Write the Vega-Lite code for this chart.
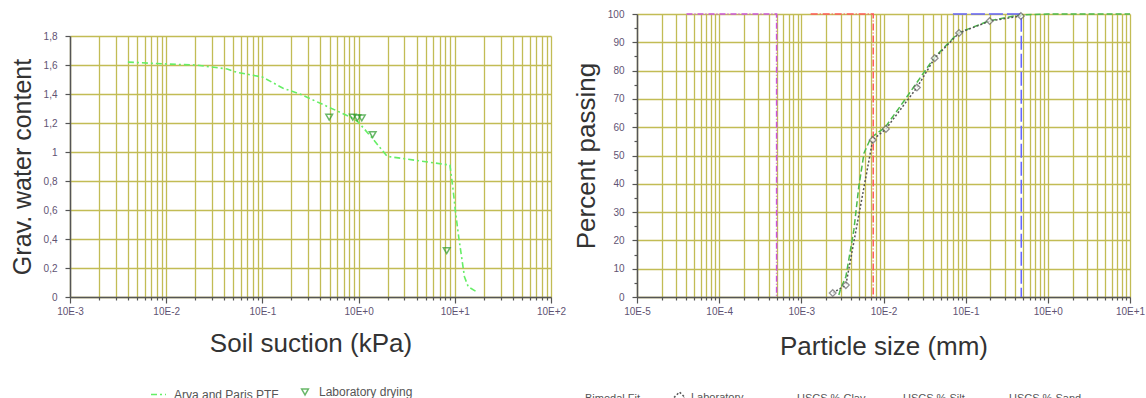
{
  "$schema": "https://vega.github.io/schema/vega-lite/v6.json",
  "padding": {"left": 10, "top": 9, "right": 0, "bottom": 0},
  "background": "white",
  "config": {
    "view": {"stroke": null},
    "font": "Liberation Sans",
    "axis": {
      "domainColor": "#555555", "domainWidth": 1.5,
      "tickColor": "#555555", "tickWidth": 1.2,
      "gridColor": "#c2bc55", "gridWidth": 1.3, "gridOpacity": 1,
      "labelFont": "Liberation Sans", "labelFontSize": 10, "labelColor": "#5f5373",
      "titleFont": "Liberation Sans", "titleFontSize": 26, "titleFontWeight": "normal", "titleColor": "#333333",
      "labelOverlap": false, "labelBound": false, "labelFlush": false
    },
    "legend": {"labelFont": "Liberation Sans", "labelFontSize": 11, "labelColor": "#555555", "padding": 0}
  },
  "datasets": {
    "swcc": [
      {"series": "Arya and Paris PTF", "suction": 0.04, "w": 1.62},
      {"series": "Arya and Paris PTF", "suction": 0.1, "w": 1.607},
      {"series": "Arya and Paris PTF", "suction": 0.2, "w": 1.6},
      {"series": "Arya and Paris PTF", "suction": 0.43, "w": 1.573},
      {"series": "Arya and Paris PTF", "suction": 0.54, "w": 1.55},
      {"series": "Arya and Paris PTF", "suction": 1.0, "w": 1.517},
      {"series": "Arya and Paris PTF", "suction": 1.64, "w": 1.44},
      {"series": "Arya and Paris PTF", "suction": 2.45, "w": 1.4},
      {"series": "Arya and Paris PTF", "suction": 8.3, "w": 1.24},
      {"series": "Arya and Paris PTF", "suction": 9.8, "w": 1.21},
      {"series": "Arya and Paris PTF", "suction": 13.7, "w": 1.1},
      {"series": "Arya and Paris PTF", "suction": 19.8, "w": 0.97},
      {"series": "Arya and Paris PTF", "suction": 89, "w": 0.91},
      {"series": "Arya and Paris PTF", "suction": 96, "w": 0.74},
      {"series": "Arya and Paris PTF", "suction": 102, "w": 0.58},
      {"series": "Arya and Paris PTF", "suction": 110, "w": 0.41},
      {"series": "Arya and Paris PTF", "suction": 126, "w": 0.14},
      {"series": "Arya and Paris PTF", "suction": 138, "w": 0.07},
      {"series": "Arya and Paris PTF", "suction": 170, "w": 0.035},
      {"series": "Laboratory drying", "suction": 4.95, "w": 1.24},
      {"series": "Laboratory drying", "suction": 8.7, "w": 1.24},
      {"series": "Laboratory drying", "suction": 9.7, "w": 1.235},
      {"series": "Laboratory drying", "suction": 10.8, "w": 1.235},
      {"series": "Laboratory drying", "suction": 14, "w": 1.12},
      {"series": "Laboratory drying", "suction": 82.4, "w": 0.32}
    ],
    "psd": [
      {"i": 1, "series": "Bimodal Fit", "size": 0.0286, "pct": 0.7},
      {"i": 2, "series": "Bimodal Fit", "size": 0.0303, "pct": 3.2},
      {"i": 3, "series": "Bimodal Fit", "size": 0.0348, "pct": 7.1},
      {"i": 4, "series": "Bimodal Fit", "size": 0.0436, "pct": 23.7},
      {"i": 5, "series": "Bimodal Fit", "size": 0.05, "pct": 38.9},
      {"i": 6, "series": "Bimodal Fit", "size": 0.058, "pct": 50.9},
      {"i": 7, "series": "Bimodal Fit", "size": 0.07, "pct": 56.2},
      {"i": 8, "series": "Bimodal Fit", "size": 0.105, "pct": 60},
      {"i": 9, "series": "Bimodal Fit", "size": 0.175, "pct": 69},
      {"i": 10, "series": "Bimodal Fit", "size": 0.41, "pct": 84.4},
      {"i": 11, "series": "Bimodal Fit", "size": 0.81, "pct": 93.3},
      {"i": 12, "series": "Bimodal Fit", "size": 1.9, "pct": 97.5},
      {"i": 13, "series": "Bimodal Fit", "size": 4.3, "pct": 99.6},
      {"i": 14, "series": "Bimodal Fit", "size": 10, "pct": 100},
      {"i": 15, "series": "Bimodal Fit", "size": 100, "pct": 100},
      {"i": 16, "series": "Laboratory", "size": 0.0241, "pct": 1.4},
      {"i": 17, "series": "Laboratory", "size": 0.0348, "pct": 4.2},
      {"i": 18, "series": "Laboratory", "size": 0.074, "pct": 55.5},
      {"i": 19, "series": "Laboratory", "size": 0.107, "pct": 59.4},
      {"i": 20, "series": "Laboratory", "size": 0.255, "pct": 74},
      {"i": 21, "series": "Laboratory", "size": 0.42, "pct": 84.4},
      {"i": 22, "series": "Laboratory", "size": 0.83, "pct": 93.3},
      {"i": 23, "series": "Laboratory", "size": 1.96, "pct": 97.5},
      {"i": 24, "series": "Laboratory", "size": 4.7, "pct": 99.3},
      {"i": 25, "series": "USCS % Clay", "size": 0.0004, "pct": 100},
      {"i": 26, "series": "USCS % Clay", "size": 0.005, "pct": 100},
      {"i": 27, "series": "USCS % Clay", "size": 0.005, "pct": 0},
      {"i": 28, "series": "USCS % Silt", "size": 0.013, "pct": 100},
      {"i": 29, "series": "USCS % Silt", "size": 0.075, "pct": 100},
      {"i": 30, "series": "USCS % Silt", "size": 0.075, "pct": 0},
      {"i": 31, "series": "USCS % Sand", "size": 0.7, "pct": 100},
      {"i": 32, "series": "USCS % Sand", "size": 4.75, "pct": 100},
      {"i": 33, "series": "USCS % Sand", "size": 4.75, "pct": 0}
    ]
  },
  "spacing": 1,
  "resolve": {
    "scale": {"color": "independent", "shape": "independent", "strokeDash": "independent"},
    "legend": {"color": "independent", "shape": "independent", "strokeDash": "independent"}
  },
  "hconcat": [
    {
      "spacing": 10,
      "resolve": {
        "scale": {"color": "independent", "shape": "independent", "strokeDash": "independent"},
        "legend": {"color": "independent", "shape": "independent", "strokeDash": "independent"}
      },
      "vconcat": [
        {"width": 10, "height": 7, "view": {"stroke": null}, "data": {"values": []}, "mark": "point", "encoding": {}},
        {
          "width": 481, "height": 261,
          "data": {"name": "swcc"},
          "layer": [
            {
              "transform": [{"filter": "datum.series === 'Arya and Paris PTF'"}],
              "mark": {"type": "line", "stroke": "#66ee66", "strokeWidth": 1.6},
              "encoding": {
                "x": {"field": "suction", "type": "quantitative",
                  "scale": {"type": "log", "domain": [0.01, 1000]},
                  "axis": {
                    "title": "Soil suction (kPa)",
                    "tickCount": 60,
                    "labelExpr": "abs(log(datum.value)/LN10 - round(log(datum.value)/LN10)) < 0.001 ? '10E' + (round(log(datum.value)/LN10) - 1 >= 0 ? '+' : '') + (round(log(datum.value)/LN10) - 1) : ''",
                    "tickSize": {"condition": {"test": "abs(log(datum.value)/LN10 - round(log(datum.value)/LN10)) < 0.001", "value": 6}, "value": 3},
                    "labelPadding": 3, "titlePadding": 14
                  }},
                "y": {"field": "w", "type": "quantitative",
                  "scale": {"domain": [0, 1.8], "nice": false},
                  "axis": {
                    "title": "Grav. water content", "titleFontSize": 25,
                    "tickCount": 9,
                    "labelExpr": "replace(format(datum.value, '.1~f'), '.', ',')",
                    "tickSize": 5, "labelPadding": 8, "titlePadding": 8
                  }},
                "strokeDash": {"field": "series", "type": "nominal",
                  "scale": {"domain": ["Arya and Paris PTF"], "range": [[6, 3, 2, 3]]},
                  "legend": {"title": null, "orient": "none", "legendX": 80, "legendY": 350, "labelFontSize": 12, "symbolType": "stroke", "symbolSize": 225, "symbolStrokeColor": "#66ee66", "symbolStrokeWidth": 1.6, "labelOffset": 7}}
              }
            },
            {
              "transform": [{"filter": "datum.series === 'Laboratory drying'"}],
              "mark": {"type": "point", "filled": false, "stroke": "#2a9a2a", "strokeWidth": 1.5, "size": 45},
              "encoding": {
                "x": {"field": "suction", "type": "quantitative"},
                "y": {"field": "w", "type": "quantitative"},
                "shape": {"field": "series", "type": "nominal",
                  "scale": {"domain": ["Laboratory drying"], "range": ["triangle-down"]},
                  "legend": {"title": null, "orient": "none", "legendX": 229, "legendY": 350, "labelFontSize": 12, "symbolSize": 45, "symbolStrokeColor": "#2a9a2a", "symbolStrokeWidth": 1.5, "symbolFillColor": "transparent", "labelOffset": 8}}
              }
            }
          ]
        }
      ]
    },
    {
      "width": 493, "height": 283,
      "data": {"name": "psd"},
      "layer": [
        {
          "mark": {"type": "line", "strokeWidth": 1.5},
          "encoding": {
            "x": {"field": "size", "type": "quantitative",
              "scale": {"type": "log", "domain": [0.0001, 100]},
              "axis": {
                "title": "Particle size (mm)",
                "tickCount": 60,
                "labelExpr": "abs(log(datum.value)/LN10 - round(log(datum.value)/LN10)) < 0.001 ? '10E' + (round(log(datum.value)/LN10) - 1 >= 0 ? '+' : '') + (round(log(datum.value)/LN10) - 1) : ''",
                "tickSize": {"condition": {"test": "abs(log(datum.value)/LN10 - round(log(datum.value)/LN10)) < 0.001", "value": 6}, "value": 3},
                "labelPadding": 3, "titlePadding": 17
              }},
            "y": {"field": "pct", "type": "quantitative",
              "scale": {"domain": [0, 100], "nice": false},
              "axis": {
                "title": "Percent passing",
                "tickCount": 20,
                "labelExpr": "datum.value % 10 === 0 ? datum.label : ''",
                "gridOpacity": {"condition": {"test": "datum.value % 10 !== 0", "value": 0}, "value": 1},
                "tickSize": {"condition": {"test": "datum.value % 10 === 0", "value": 5}, "value": 3},
                "labelPadding": 8, "titlePadding": 8
              }},
            "order": {"field": "i", "type": "quantitative"},
            "color": {"field": "series", "type": "nominal",
              "scale": {"domain": ["Bimodal Fit", "Laboratory", "USCS % Clay", "USCS % Silt", "USCS % Sand"],
                        "range": ["#4cbb4c", "#555555", "#cc55dd", "#ff5a5a", "#6464ff"]},
              "legend": {"title": null, "orient": "none", "legendX": -70, "legendY": 377, "direction": "horizontal", "columns": 5, "gridAlign": "all", "columnPadding": 13, "symbolType": "stroke", "symbolSize": 120, "symbolStrokeWidth": 1.5, "labelOffset": 5,
                "encode": {"symbols": {"update": {"shape": {"signal": "datum.value === 'Laboratory' ? 'diamond' : 'stroke'"}, "fill": {"value": "white"}}}}}},
            "strokeDash": {"field": "series", "type": "nominal",
              "scale": {"domain": ["Bimodal Fit", "Laboratory", "USCS % Clay", "USCS % Silt", "USCS % Sand"],
                        "range": [[6, 3], [2, 2], [6, 2, 1, 2], [7, 2, 1, 2], [14, 4]]},
              "legend": {"title": null, "orient": "none", "legendX": -70, "legendY": 377, "direction": "horizontal", "columns": 5, "gridAlign": "all", "columnPadding": 13, "symbolType": "stroke", "symbolSize": 120, "symbolStrokeWidth": 1.5, "labelOffset": 5,
                "encode": {"symbols": {"update": {"shape": {"signal": "datum.value === 'Laboratory' ? 'diamond' : 'stroke'"}, "fill": {"value": "white"}}}}}}
          }
        },
        {
          "transform": [{"filter": "datum.series === 'Laboratory'"}],
          "mark": {"type": "point", "shape": "diamond", "filled": true, "fill": "white", "stroke": "#666666", "strokeWidth": 1.3, "size": 45},
          "encoding": {
            "x": {"field": "size", "type": "quantitative"},
            "y": {"field": "pct", "type": "quantitative"}
          }
        }
      ]
    }
  ]
}
